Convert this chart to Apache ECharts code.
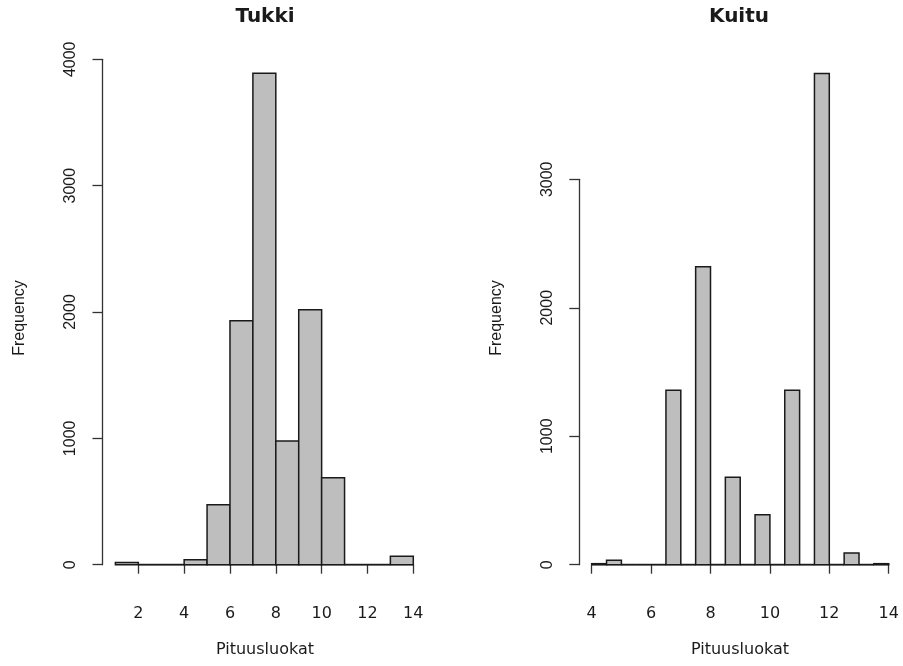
<!DOCTYPE html>
<html>
<head>
<meta charset="utf-8">
<script src="https://cdn.jsdelivr.net/npm/echarts@6/dist/echarts.min.js"></script>
<style>
  html, body { margin: 0; padding: 0; background: #ffffff; }
  #chart { width: 903px; height: 666px; }
</style>
</head>
<body>
<div id="chart"></div>
<script>
// Length-class histograms: saw logs (Tukki) and pulpwood (Kuitu)
const tukkiBreaks = [1, 2, 3, 4, 5, 6, 7, 8, 9, 10, 11, 12, 13, 14];
const tukkiCounts = [18, 0, 0, 40, 475, 1930, 3890, 979, 2017, 688, 0, 0, 66];

const kuituBreaks = [4, 4.5, 5, 5.5, 6, 6.5, 7, 7.5, 8, 8.5, 9, 9.5, 10, 10.5, 11, 11.5, 12, 12.5, 13, 13.5, 14];
const kuituCounts = [8, 34, 0, 0, 0, 1357, 0, 2319, 0, 680, 0, 389, 0, 1357, 0, 3824, 0, 91, 0, 8];

const tukkiXTicks = [2, 14, 2];      // first, last, step
const tukkiYTicks = [0, 4000, 1000];
const kuituXTicks = [4, 14, 2];
const kuituYTicks = [0, 3000, 1000];

const titles = ['Tukki', 'Kuitu'];
const xName = 'Pituusluokat';
const yName = 'Frequency';

function binRows(breaks, counts) {
  return counts.map((c, i) => [breaks[i], breaks[i + 1], c]);
}

function histItem(params, api) {
  const x0 = api.value(0), x1 = api.value(1), v = api.value(2);
  const p0 = api.coord([x0, 0]);
  const p1 = api.coord([x1, v]);
  return {
    type: 'rect',
    shape: { x: p0[0], y: p1[1], width: p1[0] - p0[0], height: p0[1] - p1[1] },
    style: { fill: '#bebebe', stroke: '#1a1a1a', lineWidth: 1.5 }
  };
}

const axisColor = '#333333';
const textColor = '#1a1a1a';
const sansR = 'Liberation Sans';
const sansD = 'DejaVu Sans';

function plain(v) { return String(v); }

function xAxisVisible(grid, ticks, offset) {
  return {
    type: 'value', gridIndex: grid,
    min: ticks[0], max: ticks[1], interval: ticks[2],
    offset: offset,
    axisLine: { show: true, lineStyle: { color: axisColor, width: 1.3 } },
    axisTick: { show: true, length: 9, lineStyle: { color: axisColor, width: 1.3 } },
    axisLabel: { show: true, fontSize: 16, fontFamily: sansD, color: textColor, margin: 20, formatter: plain },
    splitLine: { show: false }
  };
}

function yAxisVisible(grid, ticks, offset) {
  return {
    type: 'value', gridIndex: grid,
    min: ticks[0], max: ticks[1], interval: ticks[2],
    offset: offset,
    axisLine: { show: true, lineStyle: { color: axisColor, width: 1.3 } },
    axisTick: { show: true, length: 10, lineStyle: { color: axisColor, width: 1.3 } },
    axisLabel: { show: true, rotate: 90, fontSize: 16, fontFamily: sansR, color: textColor, margin: 24, formatter: plain },
    splitLine: { show: false }
  };
}

function hiddenAxis(grid, min, max) {
  return { type: 'value', gridIndex: grid, min: min, max: max, show: false, splitLine: { show: false } };
}

function textEl(text, x, y, font, rotation) {
  return {
    type: 'text', x: x, y: y, rotation: rotation || 0,
    style: { text: text, font: font, fill: textColor, align: 'center', verticalAlign: 'middle' }
  };
}

const chart = echarts.init(document.getElementById('chart'), null, { renderer: 'canvas' });

chart.setOption({
  backgroundColor: '#ffffff',
  animation: false,
  grid: [
    { left: 115.4, top: 59.3, width: 297.9, height: 505.4 },   // Tukki bars
    { left: 138.3, top: 59.3, width: 275.0, height: 505.4 },   // Tukki x axis
    { left: 591.7, top: 179.3, width: 297.0, height: 385.4 }   // Kuitu
  ],
  xAxis: [
    hiddenAxis(0, tukkiBreaks[0], tukkiBreaks[tukkiBreaks.length - 1]),
    xAxisVisible(1, tukkiXTicks, 21.3),
    xAxisVisible(2, kuituXTicks, 21)
  ],
  yAxis: [
    yAxisVisible(0, tukkiYTicks, 12.9),
    hiddenAxis(1, tukkiYTicks[0], tukkiYTicks[1]),
    yAxisVisible(2, kuituYTicks, 12.4)
  ],
  series: [
    {
      type: 'custom', xAxisIndex: 0, yAxisIndex: 0, clip: false,
      renderItem: histItem, encode: { x: [0, 1], y: 2 },
      data: binRows(tukkiBreaks, tukkiCounts)
    },
    {
      type: 'custom', xAxisIndex: 2, yAxisIndex: 2, clip: false,
      renderItem: histItem, encode: { x: [0, 1], y: 2 },
      data: binRows(kuituBreaks, kuituCounts)
    }
  ],
  graphic: [
    textEl(titles[0], 265, 17, 'bold 20px "DejaVu Sans"'),
    textEl(titles[1], 739, 17, 'bold 20px "DejaVu Sans"'),
    textEl(xName, 265, 650, '16px "DejaVu Sans"'),
    textEl(xName, 740, 650, '16px "DejaVu Sans"'),
    textEl(yName, 20, 318, '16px "Liberation Sans"', Math.PI / 2),
    textEl(yName, 497, 318, '16px "Liberation Sans"', Math.PI / 2)
  ]
});
</script>
</body>
</html>
